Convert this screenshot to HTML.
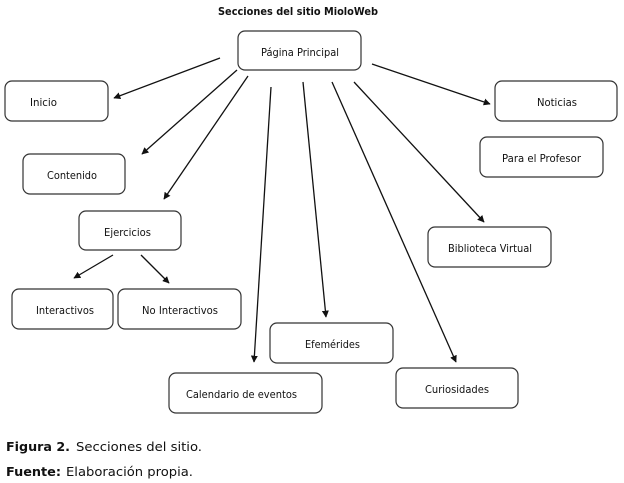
<!DOCTYPE html>
<html><head><meta charset="utf-8"><style>
html,body{margin:0;padding:0;background:#fff;}
svg{display:block;}
text{font-family:"DejaVu Sans","Liberation Sans",sans-serif;fill:#111;}
</style></head><body>
<svg width="624" height="483" viewBox="0 0 624 483" xmlns="http://www.w3.org/2000/svg">
<defs>
<marker id="a" viewBox="0 0 10 10" refX="9" refY="5" markerWidth="7" markerHeight="7" markerUnits="userSpaceOnUse" orient="auto">
<path d="M0,0 L10,5 L0,10 z" fill="#111"/>
</marker>
</defs>
<text x="218" y="15" font-size="10.5" font-weight="bold" textLength="160" lengthAdjust="spacingAndGlyphs">Secciones del sitio MioloWeb</text>
<g fill="#fff" stroke="#333" stroke-width="1.2">
<rect x="238" y="31" width="123" height="39" rx="7"/>
<rect x="5" y="81" width="103" height="40" rx="7"/>
<rect x="23" y="154" width="102" height="40" rx="7"/>
<rect x="495" y="81" width="122" height="40" rx="7"/>
<rect x="480" y="137" width="123" height="40" rx="7"/>
<rect x="79" y="211" width="102" height="39" rx="7"/>
<rect x="12" y="289" width="101" height="40" rx="7"/>
<rect x="118" y="289" width="123" height="40" rx="7"/>
<rect x="169" y="373" width="153" height="40" rx="7"/>
<rect x="270" y="323" width="123" height="40" rx="7"/>
<rect x="428" y="227" width="123" height="40" rx="7"/>
<rect x="396" y="368" width="122" height="40" rx="7"/>
</g>
<g stroke="#111" stroke-width="1.3" fill="none" marker-end="url(#a)">
<line x1="220" y1="58" x2="114" y2="98"/>
<line x1="237" y1="70" x2="142" y2="154"/>
<line x1="248" y1="76" x2="164" y2="199"/>
<line x1="271" y1="87" x2="254" y2="362"/>
<line x1="303" y1="82" x2="326" y2="317"/>
<line x1="332" y1="82" x2="456" y2="362"/>
<line x1="354" y1="82" x2="484" y2="222"/>
<line x1="372" y1="64" x2="490" y2="104"/>
<line x1="113" y1="255" x2="74" y2="278"/>
<line x1="141" y1="255" x2="169" y2="283"/>
</g>
<g font-size="11">
<text x="261" y="56" textLength="78" lengthAdjust="spacingAndGlyphs">Página Principal</text>
<text x="30" y="106" textLength="27" lengthAdjust="spacingAndGlyphs">Inicio</text>
<text x="47" y="179" textLength="50" lengthAdjust="spacingAndGlyphs">Contenido</text>
<text x="537" y="106" textLength="40" lengthAdjust="spacingAndGlyphs">Noticias</text>
<text x="502" y="162" textLength="79" lengthAdjust="spacingAndGlyphs">Para el Profesor</text>
<text x="104" y="236" textLength="47" lengthAdjust="spacingAndGlyphs">Ejercicios</text>
<text x="36" y="314" textLength="58" lengthAdjust="spacingAndGlyphs">Interactivos</text>
<text x="142" y="314" textLength="76" lengthAdjust="spacingAndGlyphs">No Interactivos</text>
<text x="186" y="398" textLength="111" lengthAdjust="spacingAndGlyphs">Calendario de eventos</text>
<text x="305" y="348" textLength="55" lengthAdjust="spacingAndGlyphs">Efemérides</text>
<text x="448" y="252" textLength="84" lengthAdjust="spacingAndGlyphs">Biblioteca Virtual</text>
<text x="425" y="393" textLength="64" lengthAdjust="spacingAndGlyphs">Curiosidades</text>
</g>
<g font-size="12">
<text x="6" y="451" font-weight="bold" textLength="64" lengthAdjust="spacingAndGlyphs">Figura 2.</text>
<text x="76" y="451" textLength="126" lengthAdjust="spacingAndGlyphs">Secciones del sitio.</text>
<text x="6" y="476" font-weight="bold" textLength="55" lengthAdjust="spacingAndGlyphs">Fuente:</text>
<text x="66" y="476" textLength="127" lengthAdjust="spacingAndGlyphs">Elaboración propia.</text>
</g>
</svg>
</body></html>
